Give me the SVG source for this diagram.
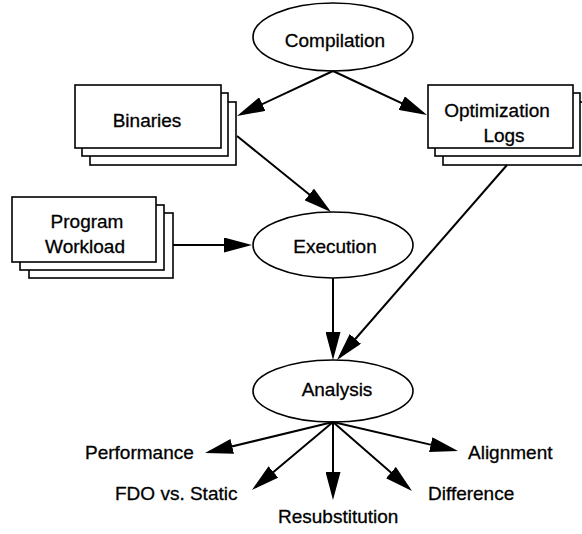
<svg xmlns="http://www.w3.org/2000/svg" width="582" height="534" viewBox="0 0 582 534">
<style>
.bg{fill:#fff}
.shape{fill:#fff;stroke:#000;stroke-width:1.6}
.edge{fill:none;stroke:#000;stroke-width:2}
text{font-family:"Liberation Sans",Arial,Helvetica,sans-serif;font-size:19px;fill:#000;stroke:#000;stroke-width:0.3}
.m{text-anchor:middle}
</style>
<defs>
<marker id="ah" markerUnits="userSpaceOnUse" markerWidth="28" markerHeight="15" viewBox="0 0 28 15" refX="24" refY="7.5" orient="auto">
<path d="M0,0 L28,7.5 L0,15 z" fill="#000"/>
</marker>
</defs>
<rect class="bg" x="0" y="0" width="582" height="534"/>

<g id="compilation">
<ellipse class="shape" cx="333" cy="37" rx="80" ry="34"/>
<text class="m" x="335" y="46.5">Compilation</text>
</g>

<g id="binaries">
<rect class="shape" x="90" y="102" width="146" height="63"/>
<rect class="shape" x="82" y="93" width="146" height="63"/>
<rect class="shape" x="75" y="85" width="146" height="63"/>
<text class="m" x="147" y="127">Binaries</text>
</g>

<g id="optimization-logs">
<rect class="shape" x="443" y="102" width="145" height="63"/>
<rect class="shape" x="435" y="93" width="145" height="63"/>
<rect class="shape" x="428" y="85" width="145" height="63"/>
<text class="m" x="497" y="117">Optimization</text>
<text class="m" x="504" y="142">Logs</text>
</g>

<g id="program-workload">
<rect class="shape" x="29" y="213" width="144" height="65"/>
<rect class="shape" x="20" y="205" width="144" height="65"/>
<rect class="shape" x="12" y="197" width="144" height="65"/>
<text class="m" x="87" y="228">Program</text>
<text class="m" x="85" y="253">Workload</text>
</g>

<g id="execution">
<ellipse class="shape" cx="333" cy="245" rx="80" ry="33"/>
<text class="m" x="335" y="253">Execution</text>
</g>

<g id="analysis">
<ellipse class="shape" cx="333" cy="391" rx="80" ry="31"/>
<text class="m" x="337" y="396">Analysis</text>
</g>

<g id="performance"><text x="85" y="459">Performance</text></g>
<g id="fdo-vs-static"><text x="115" y="500">FDO vs. Static</text></g>
<g id="resubstitution"><text x="278" y="523">Resubstitution</text></g>
<g id="difference"><text x="428" y="500">Difference</text></g>
<g id="alignment"><text x="468" y="459">Alignment</text></g>

<g id="connectors">
<line class="edge" x1="333" y1="71" x2="240.6" y2="114.3" marker-end="url(#ah)"/>
<line class="edge" x1="333" y1="71" x2="423.4" y2="113.3" marker-end="url(#ah)"/>
<line class="edge" x1="237" y1="136" x2="327.9" y2="209.5" marker-end="url(#ah)"/>
<line class="edge" x1="173" y1="245" x2="248" y2="245" marker-end="url(#ah)"/>
<line class="edge" x1="333" y1="278" x2="333" y2="356" marker-end="url(#ah)"/>
<line class="edge" x1="507" y1="165" x2="339.6" y2="357" marker-end="url(#ah)"/>
<line class="edge" x1="333" y1="422" x2="208.9" y2="452" marker-end="url(#ah)"/>
<line class="edge" x1="333" y1="422" x2="255" y2="487.4" marker-end="url(#ah)"/>
<line class="edge" x1="333" y1="422" x2="333" y2="496" marker-end="url(#ah)"/>
<line class="edge" x1="333" y1="422" x2="409" y2="488.3" marker-end="url(#ah)"/>
<line class="edge" x1="333" y1="422" x2="454.1" y2="450.1" marker-end="url(#ah)"/>
</g>
</svg>
